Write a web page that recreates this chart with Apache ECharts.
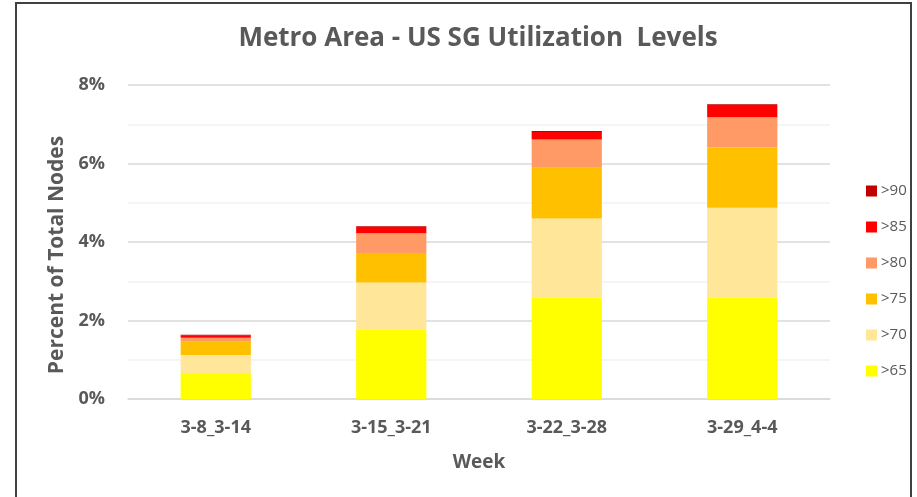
<!DOCTYPE html>
<html><head><meta charset="utf-8">
<script src="https://cdn.jsdelivr.net/npm/echarts@6/dist/echarts.min.js"></script>
<style>html,body{margin:0;padding:0;background:#fff}#c{width:917px;height:497px}</style>
</head><body><div id="c"></div>
<script>
const categories = ['3-8_3-14', '3-15_3-21', '3-22_3-28', '3-29_4-4'];
const seriesNames = ['>65', '>70', '>75', '>80', '>85', '>90'];
const s65 = [0.66, 1.78, 2.58, 2.58];
const s70 = [0.46, 1.19, 2.02, 2.29];
const s75 = [0.34, 0.75, 1.29, 1.54];
const s80 = [0.10, 0.50, 0.72, 0.77];
const s85 = [0.05, 0.16, 0.19, 0.31];
const s90 = [0.03, 0.02, 0.03, 0.02];
const colors = ['#FFFF00', '#FFE699', '#FFC000', '#FF9966', '#FF0000', '#C00000'];
const values = [s65, s70, s75, s80, s85, s90];
const F = '"Open Sans", sans-serif';
const chart = echarts.init(document.getElementById('c'));
chart.setOption({
  animation: false,
  color: colors,
  title: {
    text: 'Metro Area - US SG Utilization  Levels',
    left: 473, top: 21, textAlign: 'center',
    textStyle: {fontFamily: F, fontSize: 26, fontWeight: 'bold', color: '#595959'}
  },
  graphic: [{type: 'rect', shape: {x: 16, y: 3, width: 895, height: 500},
    style: {fill: 'none', stroke: '#404040', lineWidth: 2}, silent: true}],
  legend: {
    orient: 'vertical', left: 861, top: 178, itemGap: 20, itemWidth: 11, itemHeight: 11,
    data: seriesNames.slice().reverse(),
    icon: 'rect',
    textStyle: {fontFamily: F, fontSize: 15, lineHeight: 16, color: '#595959', padding: [0,0,0,-1]}
  },
  grid: {left: 128, right: 87, top: 85, bottom: 98, containLabel: false},
  xAxis: {
    type: 'category', data: categories,
    name: 'Week', nameLocation: 'middle', nameGap: 54,
    nameTextStyle: {fontFamily: F, fontSize: 19, fontWeight: 'bold', color: '#595959'},
    axisLine: {lineStyle: {color: '#D9D9D9', width: 1.5}},
    axisTick: {show: false},
    axisLabel: {fontFamily: F, fontSize: 18, fontWeight: 'bold', color: '#595959', margin: 20}
  },
  yAxis: {
    type: 'value', min: 0, max: 8, interval: 2,
    name: 'Percent of Total Nodes', nameLocation: 'middle', nameGap: 60,
    nameTextStyle: {fontFamily: F, fontSize: 21, fontWeight: 'bold', color: '#595959', padding: [0, 26, 0, 0]},
    axisLabel: {formatter: v => v + '%', fontFamily: F, fontSize: 18, fontWeight: 'bold', color: '#595959', margin: 23},
    axisLine: {show: false}, axisTick: {show: false},
    splitLine: {lineStyle: {color: '#D9D9D9', width: 1.5}},
    minorTick: {show: false, splitNumber: 2},
    minorSplitLine: {show: true, lineStyle: {color: '#F2F2F2', width: 1.5}}
  },
  series: seriesNames.map((n, i) => ({
    name: n, type: 'bar', stack: 'total', data: values[i], barWidth: '40%',
    itemStyle: {color: colors[i]}
  }))
});
</script></body></html>
